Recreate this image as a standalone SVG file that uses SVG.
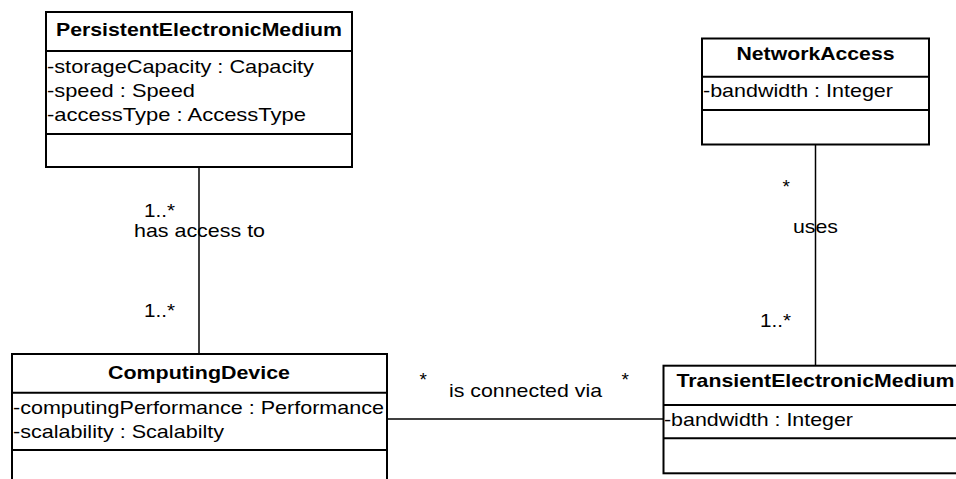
<svg xmlns="http://www.w3.org/2000/svg" width="956" height="479" viewBox="0 0 956 479">
<style>
.box{fill:#fff;stroke:#000;stroke-width:2}
.div{stroke:#000;stroke-width:2}
.conn{stroke:#000;stroke-width:1.5;fill:none}
text{font-family:"Liberation Sans",Arial,sans-serif;font-size:19px;fill:#000}
.t{font-weight:bold;text-anchor:middle}
</style>
<rect width="956" height="479" fill="#fff"/>
<g id="connectors">
<line class="conn" x1="199" y1="167" x2="199" y2="354"/>
<line class="conn" x1="815.5" y1="144.3" x2="815.5" y2="365.7"/>
<line class="conn" x1="387" y1="419" x2="663.5" y2="419"/>
<text x="144" y="216.7" textLength="31" lengthAdjust="spacingAndGlyphs">1..*</text>
<text x="134" y="236.7" textLength="131" lengthAdjust="spacingAndGlyphs">has access to</text>
<text x="144" y="316.7" textLength="31" lengthAdjust="spacingAndGlyphs">1..*</text>
<text x="782.5" y="193">*</text>
<text x="793" y="232.7" textLength="45" lengthAdjust="spacingAndGlyphs">uses</text>
<text x="760" y="326.7" textLength="31" lengthAdjust="spacingAndGlyphs">1..*</text>
<text x="419.5" y="386">*</text>
<text x="449" y="396.7" textLength="153" lengthAdjust="spacingAndGlyphs">is connected via</text>
<text x="621.5" y="386">*</text>
</g>
<g id="PersistentElectronicMedium">
<rect class="box" x="46" y="12" width="306" height="155"/>
<line class="div" x1="46" y1="51" x2="352" y2="51"/>
<line class="div" x1="46" y1="134" x2="352" y2="134"/>
<text class="t" x="199" y="36" textLength="286" lengthAdjust="spacingAndGlyphs">PersistentElectronicMedium</text>
<text x="47" y="72.7" textLength="267" lengthAdjust="spacingAndGlyphs">-storageCapacity : Capacity</text>
<text x="47" y="96.7" textLength="148" lengthAdjust="spacingAndGlyphs">-speed : Speed</text>
<text x="47" y="120.7" textLength="259" lengthAdjust="spacingAndGlyphs">-accessType : AccessType</text>
</g>
<g id="NetworkAccess">
<rect class="box" x="702" y="38.5" width="227" height="106"/>
<line class="div" x1="702" y1="76.7" x2="929" y2="76.7"/>
<line class="div" x1="702" y1="110" x2="929" y2="110"/>
<text class="t" x="815.5" y="60" textLength="158" lengthAdjust="spacingAndGlyphs">NetworkAccess</text>
<text x="703" y="97" textLength="190" lengthAdjust="spacingAndGlyphs">-bandwidth : Integer</text>
</g>
<g id="ComputingDevice">
<rect class="box" x="12" y="354" width="375" height="140"/>
<line class="div" x1="12" y1="392.7" x2="387" y2="392.7"/>
<line class="div" x1="12" y1="450" x2="387" y2="450"/>
<text class="t" x="199" y="379.3" textLength="182" lengthAdjust="spacingAndGlyphs">ComputingDevice</text>
<text x="13" y="414" textLength="371" lengthAdjust="spacingAndGlyphs">-computingPerformance : Performance</text>
<text x="13" y="438.3" textLength="211" lengthAdjust="spacingAndGlyphs">-scalability : Scalabilty</text>
</g>
<g id="TransientElectronicMedium">
<rect class="box" x="663.5" y="365.7" width="305" height="107.6"/>
<line class="div" x1="663.5" y1="405" x2="968.5" y2="405"/>
<line class="div" x1="663.5" y1="438.3" x2="968.5" y2="438.3"/>
<text class="t" x="815.5" y="386.7" textLength="278" lengthAdjust="spacingAndGlyphs">TransientElectronicMedium</text>
<text x="664" y="426" textLength="189" lengthAdjust="spacingAndGlyphs">-bandwidth : Integer</text>
</g>
</svg>
